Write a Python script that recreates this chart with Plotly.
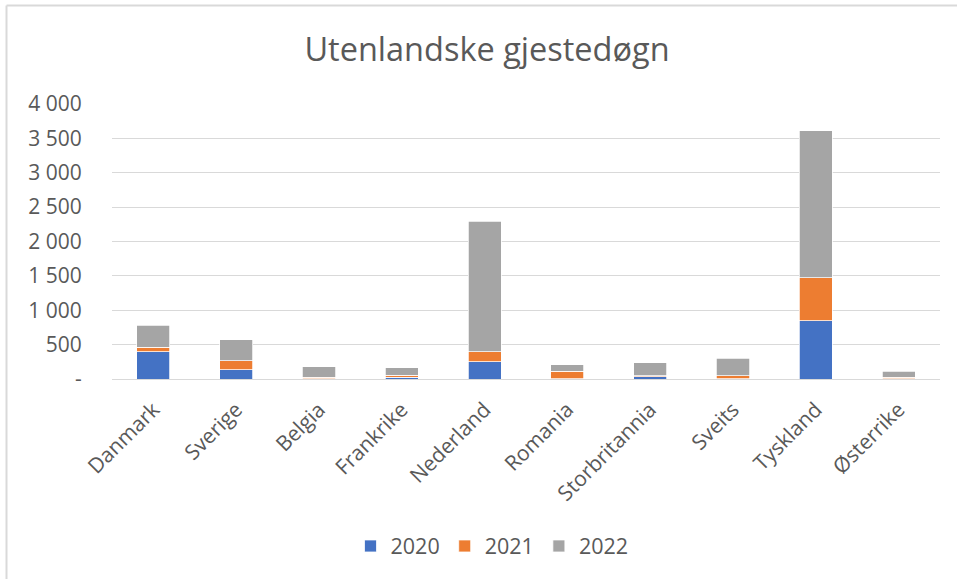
import plotly.graph_objects as go

countries = ["Danmark", "Sverige", "Belgia", "Frankrike", "Nederland",
             "Romania", "Storbritannia", "Sveits", "Tyskland", "Østerrike"]
v2020 = [400, 135, 5, 25, 252, 5, 30, 5, 850, 3]
v2021 = [60, 127, 20, 30, 145, 105, 15, 40, 620, 25]
v2022 = [325, 310, 150, 110, 1900, 100, 190, 260, 2140, 85]
series_names = ["2020", "2021", "2022"]
colors = ["#4472C4", "#ED7D31", "#A5A5A5"]
ytick_vals = [0, 500, 1000, 1500, 2000, 2500, 3000, 3500, 4000]
ytick_text = ["-", "500", "1 000", "1 500", "2 000", "2 500", "3 000", "3 500", "4 000"]

W, H = 957, 579
L, R, T, B = 112, 17, 104, 200
pw, ph = W - L - R, H - T - B

def px_x(x):
    return (x - L) / pw

def px_y(y):
    return (H - B - y) / ph

FONT = "Open Sans"
fig = go.Figure()
for name, vals, col in zip(series_names, [v2020, v2021, v2022], colors):
    fig.add_trace(go.Bar(x=countries, y=vals, name=name,
                         marker=dict(color=col, line=dict(color="white", width=0.75))))

fig.update_layout(
    width=W, height=H, barmode="stack", bargap=0.6,
    margin=dict(l=L, r=R, t=T, b=B),
    paper_bgcolor="white", plot_bgcolor="white",
    font=dict(family=FONT, color="#595959", size=21),
    title=dict(text="Utenlandske gjestedøgn", x=487 / W, xanchor="center",
               y=1 - 50 / H, yanchor="middle",
               font=dict(family=FONT, size=32.5, color="#595959")),
    legend=dict(orientation="h", x=px_x(492), xanchor="center",
                y=px_y(546), yanchor="middle",
                font=dict(family=FONT, size=21.5, color="#595959"),
                itemwidth=30, traceorder="normal"),
    showlegend=True,
    shapes=[
        dict(type="line", xref="paper", yref="paper",
             x0=px_x(6.5), x1=px_x(970), y0=px_y(5.5), y1=px_y(5.5),
             line=dict(color="#d9d9d9", width=2)),
        dict(type="line", xref="paper", yref="paper",
             x0=px_x(6.5), x1=px_x(6.5), y0=px_y(5.5), y1=px_y(590),
             line=dict(color="#d9d9d9", width=2)),
    ],
)
fig.update_yaxes(range=[0, 4000], tickvals=ytick_vals, ticktext=ytick_text,
                 showgrid=True, gridcolor="#d9d9d9", gridwidth=1,
                 zeroline=False, ticks="outside", ticklen=25,
                 tickcolor="rgba(0,0,0,0)", showline=False,
                 tickfont=dict(size=21))
fig.update_xaxes(tickangle=-45, showline=True, linecolor="#d9d9d9", linewidth=1,
                 ticks="outside", ticklen=9, tickcolor="rgba(0,0,0,0)",
                 tickfont=dict(size=21))

fig.write_html("out.html")
